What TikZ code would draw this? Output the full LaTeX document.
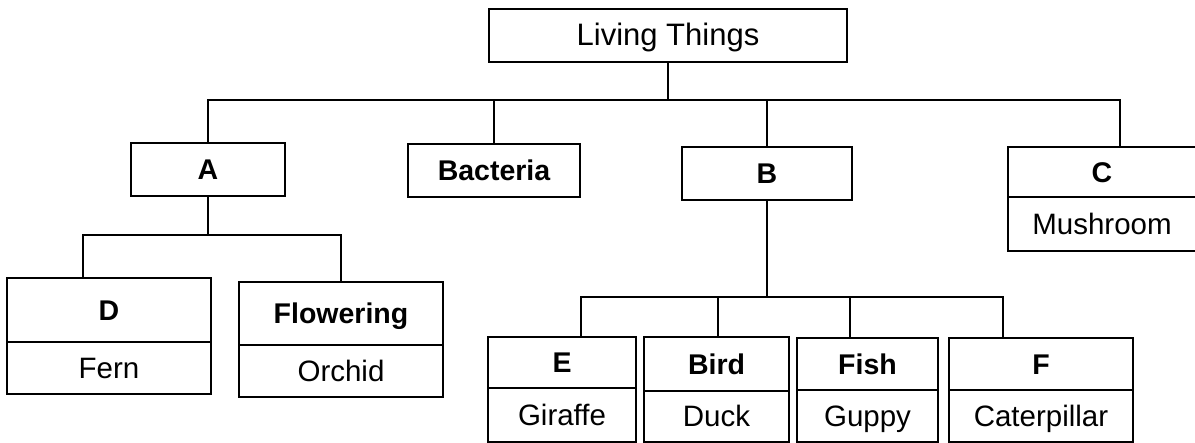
\documentclass[tikz,border=0pt]{standalone}
\usepackage{fontspec}
\setmainfont{Liberation Sans}
\usetikzlibrary{positioning}
\begin{document}
\begin{tikzpicture}[x=1pt, y=-1pt,
    box/.style={rectangle, draw, line width=1.4pt, inner sep=0pt, outer sep=0pt, text height=20.8pt, text depth=0pt, align=center},
    group/.style={box, font=\fontsize{28.5}{30}\selectfont\bfseries},
    member/.style={box, font=\fontsize{29.5}{30}\selectfont},
    link/.style={line width=1.4pt}
  ]
  \useasboundingbox (0,0) rectangle (1195,443);

  % Living Things
  \node[box, font=\fontsize{31}{32}\selectfont, minimum width=358pt, minimum height=53pt] (living) at (668,35.5) {Living Things};

  % First level
  \node[group, minimum width=154pt, minimum height=53pt] (a) at (208,169.5) {A};
  \node[group, minimum width=172pt, minimum height=53pt] (bacteria) at (494,170.5) {Bacteria};
  \node[group, minimum width=170pt, minimum height=53pt] (b) at (767,173.5) {B};
  \node[group, minimum width=188pt, minimum height=50pt] (c) at (1102,172) {C};
  \node[member, minimum width=188pt, minimum height=54pt, below=0pt of c] (mushroom) {Mushroom};

  % Plants
  \node[group, minimum width=204pt, minimum height=64pt] (d) at (109,310) {D};
  \node[member, minimum width=204pt, minimum height=52pt, below=0pt of d] (fern) {Fern};
  \node[group, minimum width=204pt, minimum height=63pt] (flowering) at (341,313.5) {Flowering};
  \node[member, minimum width=204pt, minimum height=52pt, below=0pt of flowering] (orchid) {Orchid};

  % Animals
  \node[group, minimum width=148pt, minimum height=51pt] (e) at (562,362.5) {E};
  \node[member, minimum width=148pt, minimum height=54pt, below=0pt of e] (giraffe) {Giraffe};
  \node[group, minimum width=145pt, minimum height=54pt] (bird) at (716.5,364) {Bird};
  \node[member, minimum width=145pt, minimum height=51pt, below=0pt of bird] (duck) {Duck};
  \node[group, minimum width=141pt, minimum height=52pt] (fish) at (867.5,364) {Fish};
  \node[member, minimum width=141pt, minimum height=52pt, below=0pt of fish] (guppy) {Guppy};
  \node[group, minimum width=184pt, minimum height=52pt] (f) at (1041,364) {F};
  \node[member, minimum width=184pt, minimum height=52pt, below=0pt of f] (caterpillar) {Caterpillar};

  % Links
  \draw[link] (living.south) -- ++(0,38);
  \draw[link] (a.north) -- ++(0,-43) -| ([xshift=18pt]c.north);
  \draw[link] (bacteria.north) -- ++(0,-44);
  \draw[link] (b.north) -- ++(0,-47);

  \draw[link] (a.south) -- ++(0,39);
  \draw[link] ([xshift=-26pt]d.north) -- ++(0,-43) -| (flowering.north);

  \draw[link] (b.south) -- ++(0,97);
  \draw[link] ([xshift=19pt]e.north) -- ++(0,-40) -| ([xshift=-38pt]f.north);
  \draw[link] ([xshift=1.5pt]bird.north) -- ++(0,-40);
  \draw[link] ([xshift=-17.5pt]fish.north) -- ++(0,-41);
\end{tikzpicture}
\end{document}
